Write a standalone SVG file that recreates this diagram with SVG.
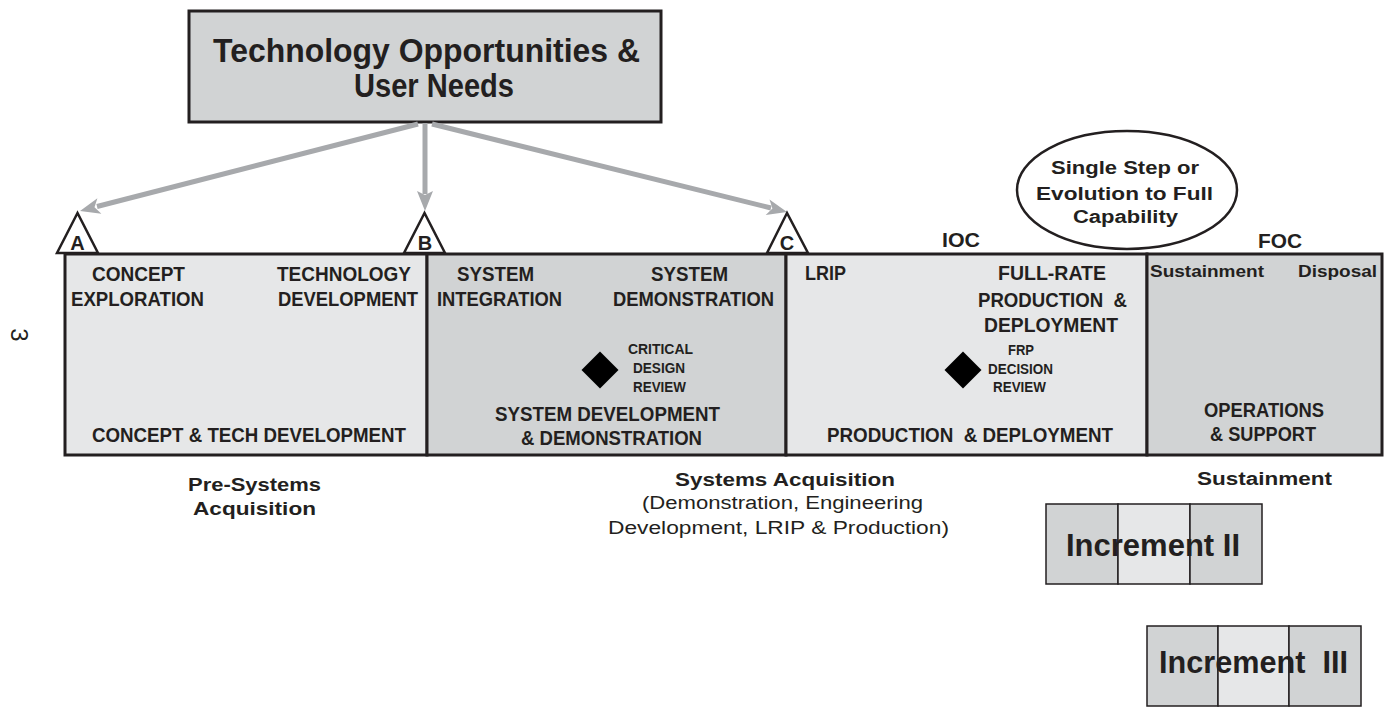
<svg xmlns="http://www.w3.org/2000/svg" width="1384" height="710" viewBox="0 0 1384 710">
<style>
text{font-family:"Liberation Sans",Arial,Helvetica,sans-serif;fill:#231f20;font-weight:bold}
.nb{font-weight:normal}
.b20{font-size:20px}
.s14{font-size:14px}
.s18{font-size:18px}
.s17{font-size:17px}
.tl{font-size:20px}
.big{font-size:34px}
.inc{font-size:32px}
.light{fill:#e6e7e8}
.dark{fill:#d1d3d4}
.frame{fill:none;stroke:#231f20;stroke-width:3}
.tri{fill:#fff;stroke:#231f20;stroke-width:2.5;stroke-linejoin:miter}
.arw{stroke:#a7a9ac;stroke-width:5;fill:none}
.ah{fill:#a7a9ac}
.incb{stroke:#231f20;stroke-width:1.5}
.dia{fill:#000}
</style>
<rect width="1384" height="710" fill="#fff"/>

<g id="page-number">
<text class="nb" style="font-size:24px" text-anchor="middle" transform="translate(19.5,335) rotate(90)" x="0" y="8.6">3</text>
</g>

<g id="node-top">
<rect x="189" y="11" width="472" height="111" fill="#d1d3d4" stroke="#231f20" stroke-width="3"/>
<text class="big" x="213" y="62" textLength="427" lengthAdjust="spacingAndGlyphs">Technology Opportunities &amp;</text>
<text class="big" x="354" y="97" textLength="160" lengthAdjust="spacingAndGlyphs">User Needs</text>
</g>

<g id="connectors">
<line class="arw" x1="418" y1="124" x2="97" y2="206.5"/>
<polygon class="ah" points="80,211 101.4,213.8 94.5,207.3 97.4,198.3"/>
<line class="arw" x1="425" y1="123" x2="425" y2="194"/>
<polygon class="ah" points="425,211 417,191 425,195 433,191"/>
<line class="arw" x1="432" y1="124" x2="771" y2="208"/>
<polygon class="ah" points="787,212 765.7,215 772.4,208.4 769.5,199.4"/>
</g>

<g id="milestone-A">
<polygon class="tri" points="77.5,213 57,253 98,253"/>
<text class="tl" x="77.5" y="249.5" text-anchor="middle">A</text>
</g>
<g id="milestone-B">
<polygon class="tri" points="424.5,213 404,253 445,253"/>
<text class="tl" x="425" y="249.5" text-anchor="middle">B</text>
</g>
<g id="milestone-C">
<polygon class="tri" points="787,213 767,253 808,253"/>
<text class="tl" x="787" y="249.5" text-anchor="middle">C</text>
</g>

<g id="phase-concept">
<rect class="light" x="65" y="254" width="362" height="201"/>
<rect class="frame" x="65" y="254" width="362" height="201"/>
<text class="b20" x="92" y="281" textLength="93" lengthAdjust="spacingAndGlyphs">CONCEPT</text>
<text class="b20" x="71" y="306" textLength="133" lengthAdjust="spacingAndGlyphs">EXPLORATION</text>
<text class="b20" x="277" y="281" textLength="134" lengthAdjust="spacingAndGlyphs">TECHNOLOGY</text>
<text class="b20" x="278" y="306" textLength="140" lengthAdjust="spacingAndGlyphs">DEVELOPMENT</text>
<text class="b20" x="92" y="442" textLength="314" lengthAdjust="spacingAndGlyphs">CONCEPT &amp; TECH DEVELOPMENT</text>
</g>

<g id="phase-sdd">
<rect class="dark" x="427" y="254" width="359" height="201"/>
<rect class="frame" x="427" y="254" width="359" height="201"/>
<text class="b20" x="457" y="281" textLength="77" lengthAdjust="spacingAndGlyphs">SYSTEM</text>
<text class="b20" x="437" y="306" textLength="125" lengthAdjust="spacingAndGlyphs">INTEGRATION</text>
<text class="b20" x="651" y="281" textLength="77" lengthAdjust="spacingAndGlyphs">SYSTEM</text>
<text class="b20" x="613" y="306" textLength="161" lengthAdjust="spacingAndGlyphs">DEMONSTRATION</text>
<polygon class="dia" points="600,351.5 618.5,370 600,388.5 581.5,370"/>
<text class="s14" x="628" y="354" textLength="65" lengthAdjust="spacingAndGlyphs">CRITICAL</text>
<text class="s14" x="633" y="373" textLength="52" lengthAdjust="spacingAndGlyphs">DESIGN</text>
<text class="s14" x="633" y="392" textLength="53" lengthAdjust="spacingAndGlyphs">REVIEW</text>
<text class="b20" x="495" y="421" textLength="225" lengthAdjust="spacingAndGlyphs">SYSTEM DEVELOPMENT</text>
<text class="b20" x="521" y="445" textLength="181" lengthAdjust="spacingAndGlyphs">&amp; DEMONSTRATION</text>
</g>

<g id="phase-production">
<rect class="light" x="786" y="254" width="361" height="201"/>
<rect class="frame" x="786" y="254" width="361" height="201"/>
<text class="b20" x="942" y="247" textLength="38" lengthAdjust="spacingAndGlyphs">IOC</text>
<text class="b20" x="805" y="280" textLength="41" lengthAdjust="spacingAndGlyphs">LRIP</text>
<text class="b20" x="998" y="280" textLength="108" lengthAdjust="spacingAndGlyphs">FULL-RATE</text>
<text class="b20" x="978" y="307" textLength="149" lengthAdjust="spacingAndGlyphs" xml:space="preserve">PRODUCTION  &amp;</text>
<text class="b20" x="984" y="332" textLength="134" lengthAdjust="spacingAndGlyphs">DEPLOYMENT</text>
<polygon class="dia" points="963,351.5 981.5,370 963,388.5 944.5,370"/>
<text class="s14" x="1008" y="355" textLength="26" lengthAdjust="spacingAndGlyphs">FRP</text>
<text class="s14" x="988" y="374" textLength="65" lengthAdjust="spacingAndGlyphs">DECISION</text>
<text class="s14" x="993" y="392" textLength="53" lengthAdjust="spacingAndGlyphs">REVIEW</text>
<text class="b20" x="827" y="442" textLength="286" lengthAdjust="spacingAndGlyphs" xml:space="preserve">PRODUCTION  &amp; DEPLOYMENT</text>
</g>

<g id="phase-ops">
<rect class="dark" x="1147" y="254" width="235" height="201"/>
<rect class="frame" x="1147" y="254" width="235" height="201"/>
<text class="b20" x="1258" y="248" textLength="44" lengthAdjust="spacingAndGlyphs">FOC</text>
<text class="s17" x="1150" y="277" textLength="114" lengthAdjust="spacingAndGlyphs">Sustainment</text>
<text class="s17" x="1298" y="277" textLength="79" lengthAdjust="spacingAndGlyphs">Disposal</text>
<text class="b20" x="1204" y="417" textLength="120" lengthAdjust="spacingAndGlyphs">OPERATIONS</text>
<text class="b20" x="1210" y="441" textLength="106" lengthAdjust="spacingAndGlyphs">&amp; SUPPORT</text>
</g>

<g id="ellipse-capability">
<ellipse cx="1127" cy="190" rx="110" ry="59" fill="#fff" stroke="#231f20" stroke-width="2.5"/>
<text class="s18" x="1051" y="174" textLength="148" lengthAdjust="spacingAndGlyphs">Single Step or</text>
<text class="s18" x="1036" y="200" textLength="177" lengthAdjust="spacingAndGlyphs">Evolution to Full</text>
<text class="s18" x="1073" y="223" textLength="105" lengthAdjust="spacingAndGlyphs">Capability</text>
</g>

<g id="label-presystems">
<text class="s18" x="188" y="491" textLength="133" lengthAdjust="spacingAndGlyphs">Pre-Systems</text>
<text class="s18" x="193" y="515" textLength="123" lengthAdjust="spacingAndGlyphs">Acquisition</text>
</g>
<g id="label-systems">
<text class="s18" x="675" y="486" textLength="220" lengthAdjust="spacingAndGlyphs">Systems Acquisition</text>
<text class="s18 nb" x="642" y="509" textLength="281" lengthAdjust="spacingAndGlyphs">(Demonstration, Engineering</text>
<text class="s18 nb" x="608" y="534" textLength="341" lengthAdjust="spacingAndGlyphs">Development, LRIP &amp; Production)</text>
</g>
<g id="label-sustainment">
<text class="s18" x="1197" y="485" textLength="135" lengthAdjust="spacingAndGlyphs">Sustainment</text>
</g>

<g id="increment-2">
<rect class="dark incb" x="1046" y="504" width="72" height="80"/>
<rect class="light incb" x="1118" y="504" width="72" height="80"/>
<rect class="dark incb" x="1190" y="504" width="72" height="80"/>
<text class="inc" x="1066" y="556" textLength="174" lengthAdjust="spacingAndGlyphs">Increment II</text>
</g>
<g id="increment-3">
<rect class="dark incb" x="1147" y="626" width="71" height="80"/>
<rect class="light incb" x="1218" y="626" width="71" height="80"/>
<rect class="dark incb" x="1289" y="626" width="72" height="80"/>
<text class="inc" x="1159" y="673" textLength="189" lengthAdjust="spacingAndGlyphs" xml:space="preserve">Increment  III</text>
</g>
</svg>
